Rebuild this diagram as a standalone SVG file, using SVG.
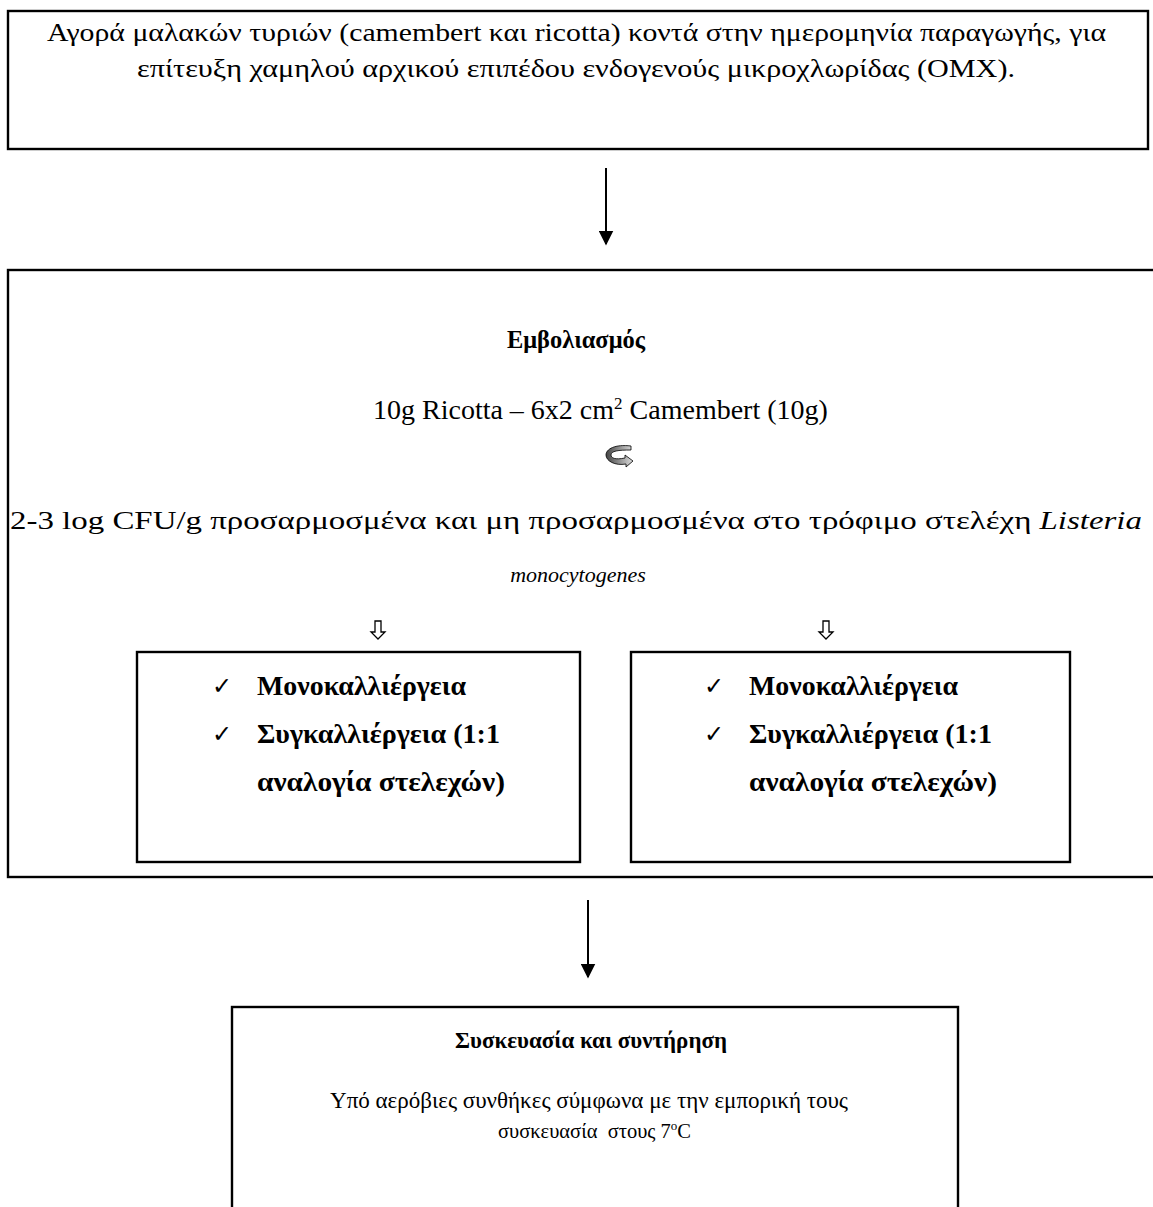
<svg xmlns="http://www.w3.org/2000/svg" width="1153" height="1207" viewBox="0 0 1153 1207">
<defs>
<style>
.box{fill:#fff;stroke:#000;stroke-width:2.4}
.t{font-family:"Liberation Serif","Times New Roman",serif;font-size:26px;fill:#000}
.c{text-anchor:middle}
.b{font-weight:bold}
.ib{font-size:27px}
.ck{font-family:"DejaVu Sans",sans-serif;font-size:24px;fill:#000}
.ln{stroke:#000;stroke-width:2;fill:none}
.hollow{fill:#fff;stroke:#000;stroke-width:1.3}
</style>
<marker id="ah" viewBox="0 0 10 10" refX="9" refY="5" markerWidth="7.5" markerHeight="7.5" markerUnits="strokeWidth" orient="auto">
<path d="M0,0 L10,5 L0,10 Z" fill="#000"/>
</marker>
<linearGradient id="g" x1="0" y1="0" x2="1" y2="0">
<stop offset="0" stop-color="#444"/>
<stop offset="1" stop-color="#ddd"/>
</linearGradient>
</defs>
<rect width="1153" height="1207" fill="#fff"/>

<g id="node-purchase">
<rect class="box" x="8" y="11" width="1140" height="138"/>
<text class="t" x="47" y="41" textLength="1059" lengthAdjust="spacingAndGlyphs">Αγορά μαλακών τυριών (camembert και ricotta) κοντά στην ημερομηνία παραγωγής, για</text>
<text class="t" x="137" y="77" textLength="878" lengthAdjust="spacingAndGlyphs">επίτευξη χαμηλού αρχικού επιπέδου ενδογενούς μικροχλωρίδας (ΟΜΧ).</text>
</g>

<g id="node-inoculation">
<rect class="box" x="8" y="270" width="1160" height="607"/>
<text class="t b" x="507" y="348" style="font-size:26px" textLength="138" lengthAdjust="spacingAndGlyphs">Εμβολιασμός</text>
<text class="t" x="373" y="419" style="font-size:28px">10g Ricotta – 6x2 cm<tspan dy="-10" style="font-size:17px">2</tspan><tspan dy="10"> Camembert (10g)</tspan></text>
<path d="M631,446 C615,444 606,449 606,455 C606,461 615,466 626,464 L626,467 L633,461 L625,455 L625,458 C615,460 611,458 611,455 C611,451 618,450 631,450 Z" fill="url(#g)" stroke="#000" stroke-width="0.8"/>
<text class="t" x="10" y="529" textLength="1132" lengthAdjust="spacingAndGlyphs">2-3 log CFU/g προσαρμοσμένα και μη προσαρμοσμένα στο τρόφιμο στελέχη <tspan font-style="italic">Listeria</tspan></text>
<text class="t c" x="578" y="582" style="font-size:22px;font-style:italic">monocytogenes</text>
<path class="hollow" d="M375,621 L381,621 L381,632 L385,632 L378,639 L371,632 L375,632 Z"/>
<path class="hollow" d="M823,621 L829,621 L829,632 L833,632 L826,639 L819,632 L823,632 Z"/>
</g>

<g id="node-left-culture">
<rect class="box" x="137" y="652" width="443" height="210"/>
<text class="ck" x="212" y="694">✓</text>
<text class="t b ib" x="257" y="695" textLength="209" lengthAdjust="spacingAndGlyphs">Μονοκαλλιέργεια</text>
<text class="ck" x="212" y="742">✓</text>
<text class="t b ib" x="257" y="743" textLength="243" lengthAdjust="spacingAndGlyphs">Συγκαλλιέργεια (1:1</text>
<text class="t b ib" x="257" y="791" textLength="248" lengthAdjust="spacingAndGlyphs">αναλογία στελεχών)</text>
</g>

<g id="node-right-culture">
<rect class="box" x="631" y="652" width="439" height="210"/>
<text class="ck" x="704" y="694">✓</text>
<text class="t b ib" x="749" y="695" textLength="209" lengthAdjust="spacingAndGlyphs">Μονοκαλλιέργεια</text>
<text class="ck" x="704" y="742">✓</text>
<text class="t b ib" x="749" y="743" textLength="243" lengthAdjust="spacingAndGlyphs">Συγκαλλιέργεια (1:1</text>
<text class="t b ib" x="749" y="791" textLength="248" lengthAdjust="spacingAndGlyphs">αναλογία στελεχών)</text>
</g>

<g id="node-storage">
<rect class="box" x="232" y="1007" width="726" height="260"/>
<text class="t b" x="455" y="1048" style="font-size:24px" textLength="272" lengthAdjust="spacingAndGlyphs">Συσκευασία και συντήρηση</text>
<text class="t" x="330" y="1108" style="font-size:23px" textLength="518" lengthAdjust="spacingAndGlyphs">Υπό αερόβιες συνθήκες σύμφωνα με την εμπορική τους</text>
<text class="t" x="498" y="1138" style="font-size:20.5px">συσκευασία&#160; στους 7<tspan dy="-8" style="font-size:13px">o</tspan><tspan dy="8">C</tspan></text>
</g>

<g id="connectors">
<line class="ln" x1="606" y1="168" x2="606" y2="244" marker-end="url(#ah)"/>
<line class="ln" x1="588" y1="900" x2="588" y2="977" marker-end="url(#ah)"/>
</g>
</svg>
